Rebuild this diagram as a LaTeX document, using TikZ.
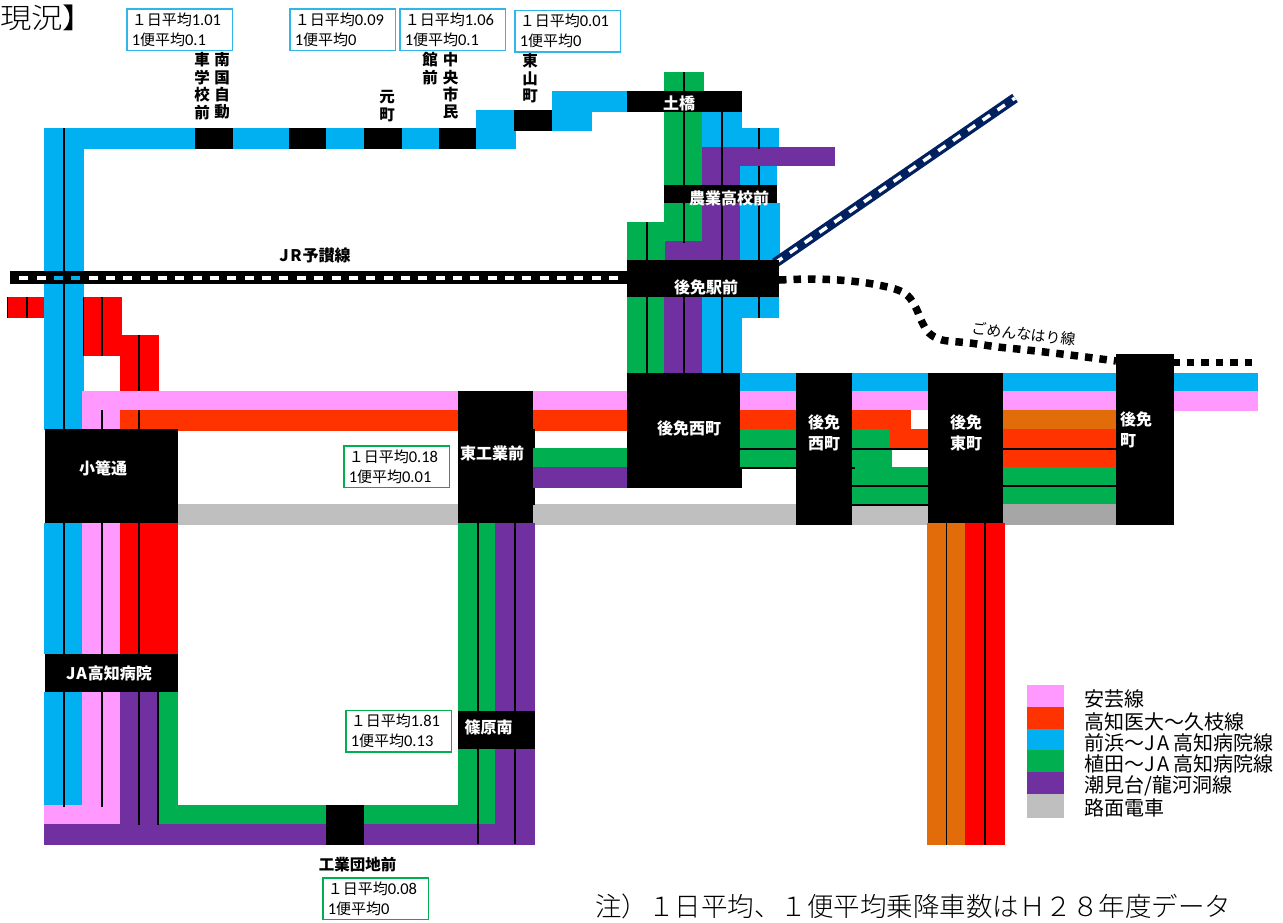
\documentclass[tikz,border=0pt]{standalone}
\usepackage{fontspec}
\newfontfamily\jp{Noto Sans CJK JP}
\newfontfamily\jpl{Noto Sans CJK JP Light}
\newfontfamily\cb{Carlito}[Scale=1.1]
\definecolor{cpink}{HTML}{FF99FF}
\definecolor{corg}{HTML}{FF3300}
\definecolor{cblue}{HTML}{00B0F0}
\definecolor{cgreen}{HTML}{00B050}
\definecolor{cpurple}{HTML}{7030A0}
\definecolor{cgray}{HTML}{BFBFBF}
\definecolor{cdgray}{HTML}{A6A6A6}
\definecolor{cred}{HTML}{FF0000}
\definecolor{corange}{HTML}{E26B0A}
\definecolor{cnavy}{HTML}{002060}
\definecolor{boxblue}{HTML}{33B5E8}
\newcommand\rc[5]{\fill[#1] (#2,#3) rectangle (#4,#5);}
\newcommand\vl[3]{\draw[midline] (#1,#2) -- (#1,#3);}
\newcommand\fs[2]{\fontsize{#1}{#2}\selectfont}
\tikzset{
  midline/.style={black,line width=1.5pt},
  stlabel/.style={text=white,font=\jp\bfseries\fs{16}{21},inner sep=0pt,align=center},
  blacklabel/.style={text=black,font=\jp\bfseries\fs{15.5}{17.4},inner sep=0pt,align=center},
  databox/.style={draw=#1,fill=white,line width=1.5pt,anchor=north west,inner ysep=0pt,inner xsep=5pt,
    text width=95.5pt,minimum height=41.5pt,align=left,font=\jp\fs{15}{20}},
  legendtext/.style={anchor=west,inner sep=0pt,font=\jp\fs{20}{22}},
}
\begin{document}
\begin{tikzpicture}[x=1pt,y=-1pt]
\useasboundingbox (0,0) rectangle (1283,922);
% top band
\rc{cblue}{45}{128}{195}{149}
\rc{black}{195}{128}{233}{149}
\rc{cblue}{233}{128}{289}{149}
\rc{black}{289}{128}{326}{149}
\rc{cblue}{326}{128}{364}{149}
\rc{black}{364}{128}{402}{149}
\rc{cblue}{402}{128}{439}{149}
\rc{black}{439}{128}{476}{149}
\rc{cblue}{476}{110}{516}{149}
\rc{black}{514}{110}{552}{131}
\rc{cblue}{552}{91}{592}{131}
\rc{cblue}{552}{91}{627}{112}
% left column
\rc{cblue}{44}{128}{84}{391}
\rc{cblue}{44}{391}{82}{430}
\vl{64}{128}{430}
% red branch
\rc{cred}{7}{297}{44}{318}
\vl{27}{297}{318}
\vl{7.5}{297}{318}
\rc{cred}{83}{297}{122}{356}
\vl{102}{297}{356}
\vl{83.5}{297}{356}
\rc{cred}{120}{335}{159}{391}
\vl{139}{335}{393}
% JR line
\rc{black}{9.5}{271}{627}{284}
\foreach \k in {0,...,34}{
  \pgfmathsetmacro\xx{19.2+17.35*\k}
  \fill[white] (\xx,275.7) rectangle (\xx+9,279.7);
}
\rc{cblue}{53.9}{275.7}{62.9}{279.7}
\rc{cblue}{71.3}{275.7}{80.3}{279.7}
\node[font=\jp\bfseries\fs{16}{18},inner sep=0pt] (jrlabel) at (315,255) {J\kern1.5pt R\kern1pt 予讃線};
% west horizontal bands
\rc{cpink}{82}{391}{458}{410}
\rc{cpink}{82}{410}{120}{429}
\rc{corg}{120}{410}{458}{431}
\vl{102}{410}{429}
\vl{139}{410}{431}
\rc{cgray}{176}{504}{458}{525}
\rc{cpink}{533}{391}{627}{410}
\rc{corg}{533}{410}{627}{431}
\rc{cgreen}{533}{448}{627}{467}
\rc{cpurple}{533}{467}{627}{488}
\rc{cgray}{533}{504}{796}{525}
% below Komagome
\rc{cblue}{44}{523}{82}{654}
\rc{cpink}{82}{523}{120}{654}
\rc{cred}{120}{523}{178}{654}
\vl{64}{523}{654}
\vl{102}{523}{654}
\vl{139}{523}{654}
% below JA
\rc{cblue}{44}{692}{82}{805}
\rc{cpink}{82}{692}{120}{805}
\rc{cpink}{44}{805}{120}{824}
\rc{cpurple}{120}{692}{159}{824}
\rc{cgreen}{159}{692}{178}{805}
\rc{cgreen}{159}{805}{495}{824}
\rc{cpurple}{44}{824}{535}{845}
\vl{64}{692}{807}
\vl{102}{692}{807}
\vl{139}{692}{825}
\vl{158}{692}{825}
% Shinohara column
\rc{cgreen}{458}{523}{495}{824}
\rc{cpurple}{495}{523}{535}{845}
\vl{478}{523}{844}
\vl{515}{523}{844}
\rc{black}{326}{805}{364}{845}
% stations west
\rc{black}{45}{429}{178}{523}
\rc{black}{45}{654}{178}{692}
\rc{black}{458}{391}{533}{523}
\rc{black}{533}{429}{535}{505}
\rc{cgreen}{533}{448}{535}{467}
\rc{cpurple}{533}{467}{535}{488}
\rc{black}{458}{711}{535}{749}
% north column
\rc{cgreen}{664}{72}{704}{91}
\vl{684}{72}{91}
\rc{cgreen}{664}{110}{702}{185}
\vl{684}{110}{185}
\rc{cblue}{702}{110}{742}{147}
\rc{cblue}{742}{128}{779}{147}
\rc{cpurple}{702}{147}{835}{166}
\rc{cpurple}{702}{166}{740}{185}
\rc{cblue}{740}{166}{777}{185}
\vl{722}{110}{185}
\vl{759}{128}{149}
\vl{759}{166}{185}
\rc{black}{627}{91}{742}{112}
\rc{black}{664}{185}{777}{203}
\rc{cgreen}{664}{203}{702}{241}
\rc{cgreen}{627}{222}{664}{260}
\rc{cgreen}{664}{222}{665}{260}
\rc{cpurple}{665}{241}{740}{260}
\rc{cpurple}{702}{203}{740}{241}
\rc{cblue}{740}{203}{780}{260}
\vl{684}{203}{243}
\vl{647}{222}{260}
\vl{722}{203}{260}
\vl{759}{203}{260}
\rc{cgreen}{627}{297}{664}{373}
\rc{cpurple}{664}{297}{702}{373}
\rc{cblue}{702}{297}{742}{373}
\rc{cblue}{742}{297}{779}{318}
\vl{647}{297}{373}
\vl{684}{297}{373}
\vl{722}{297}{373}
\vl{759}{297}{318}
% JR diagonal
\coordinate (diagA) at (775,263);
\coordinate (diagB) at (1015,98);
\draw[cnavy,line width=10pt] (diagA) -- (diagB);
\draw[white,line width=3.5pt,dash pattern=on 9pt off 9pt] (diagA) -- (diagB);
\rc{black}{627}{260}{779}{297}
% Gomen-Nahari line
\draw[black,line width=7.5pt,dash pattern=on 7.5pt off 7pt] plot[smooth,tension=0.55] coordinates
  {(779,280) (810,279) (838,280) (867,283) (895,289) (908,296) (916,308) (922,322) (929,333) (942,340) (970,343) (998,347) (1027,350) (1070,355) (1116,361)};
\draw[black,line width=7.5pt,dash pattern=on 7.5pt off 7pt] (1172,362.5) -- (1256,362.5);
\node[font=\jp\fs{14.8}{16},inner sep=0pt,rotate=-6.4] (gomen) at (1024,334) {ごめんなはり線};
% central-east bands
\rc{black}{627}{373}{742}{488}
\rc{black}{740}{448}{796}{450}
\rc{black}{740}{467}{855}{469}
\rc{cblue}{740}{373}{796}{391}
\rc{cpink}{740}{391}{796}{410}
\rc{corg}{740}{410}{796}{429}
\rc{cgreen}{740}{429}{796}{448}
\rc{cgreen}{740}{450}{796}{467}
\rc{cblue}{852}{373}{928}{391}
\rc{cpink}{852}{391}{928}{410}
\rc{corg}{852}{410}{911}{429}
\rc{corg}{890}{429}{928}{448}
\rc{cgreen}{852}{429}{890}{448}
\rc{cgreen}{852}{450}{892}{467}
\rc{cgreen}{852}{467}{928}{485}
\rc{cgreen}{852}{487}{928}{504}
\rc{cgray}{852}{506}{928}{525}
\rc{black}{852}{448}{928}{450}
\rc{black}{852}{485}{928}{487}
\rc{black}{852}{504}{928}{506}
\rc{cblue}{1003}{373}{1116}{391}
\rc{cpink}{1003}{391}{1116}{410}
\rc{corange}{1003}{410}{1116}{429}
\rc{corg}{1003}{429}{1116}{448}
\rc{black}{1003}{448}{1116}{450}
\rc{corg}{1003}{450}{1116}{467}
\rc{cgreen}{1003}{467}{1116}{485}
\rc{black}{1003}{485}{1116}{487}
\rc{cgreen}{1003}{487}{1116}{504}
\rc{cdgray}{1003}{504}{1116}{525}
\rc{cblue}{1172}{373}{1258}{391}
\rc{cpink}{1172}{391}{1258}{411}
\rc{black}{796}{373}{852}{525}
\rc{black}{852}{467}{855}{469}
\rc{black}{928}{373}{1003}{523}
\rc{black}{1116}{354}{1174}{525}
\rc{corange}{927}{523}{965}{845}
\rc{cred}{965}{523}{1005}{845}
\vl{946.5}{523}{845}
\vl{985}{523}{845}
% station labels (white)
\node[stlabel] (komagome) at (103,468) {小篭通};
\node[stlabel] (jahosp) at (109,673) {J\kern1pt A\kern1pt 高知病院};
\node[stlabel] (higashikogyo) at (492,453) {東工業前};
\node[stlabel] (shinohara) at (488.5,727) {篠原南};
\node[stlabel] (tsuchibashi) at (679,103) {土橋};
\node[stlabel] (nogyo) at (729,198) {農業高校前};
\node[stlabel] (gomeneki) at (706,287) {後免駅前};
\node[stlabel] (gomennishi) at (689,428) {後免西町};
\node[stlabel] (gomennishi2) at (824,432.5) {後免\\西町};
\node[stlabel] (gomenhigashi) at (966,432.5) {後免\\東町};
\node[stlabel,align=left,anchor=north west] (gomenmachi) at (1120,412) {後免\\町};
% vertical labels above the band
\node[blacklabel] (v1) at (222,86) {南\\国\\自\\動};
\node[blacklabel] (v2) at (202,86) {車\\学\\校\\前};
\node[blacklabel] (v3) at (387,106) {元\\町};
\node[blacklabel] (v4) at (450.6,86) {中\\央\\市\\民};
\node[blacklabel] (v5) at (430,68.5) {館\\前};
\node[blacklabel] (v6) at (530,78.5) {東\\山\\町};
\node[blacklabel] (kogyodanchi) at (357.5,865) {工業団地前};
% data boxes
\node[databox=boxblue] (dA) at (126,8) {１日平均{\cb 1.01}\\{\cb 1}便平均{\cb 0.1}};
\node[databox=boxblue] (dB) at (289,8) {１日平均{\cb 0.09}\\{\cb 1}便平均{\cb 0}};
\node[databox=boxblue] (dC) at (399,8) {１日平均{\cb 1.06}\\{\cb 1}便平均{\cb 0.1}};
\node[databox=boxblue] (dD) at (514,9.5) {１日平均{\cb 0.01}\\{\cb 1}便平均{\cb 0}};
\node[databox=cgreen] (dE) at (343,445) {１日平均{\cb 0.18}\\{\cb 1}便平均{\cb 0.01}};
\node[databox=cgreen] (dF) at (345,709.5) {１日平均{\cb 1.81}\\{\cb 1}便平均{\cb 0.13}};
\node[databox=cgreen] (dG) at (322,877) {１日平均{\cb 0.08}\\{\cb 1}便平均{\cb 0}};
% title
\node[anchor=west,inner sep=0pt,font=\jpl\fs{28}{30},xscale=1.12] (title) at (0,17.5) {現況】};
% legend
\rc{cpink}{1027}{685}{1064}{707}
\rc{corg}{1027}{707}{1064}{729}
\rc{cblue}{1027}{729}{1064}{750}
\rc{cgreen}{1027}{750}{1064}{772}
\rc{cpurple}{1027}{772}{1064}{794}
\rc{cgray}{1027}{794}{1064}{818}
\node[legendtext] (l1) at (1084,699) {安芸線};
\node[legendtext] (l2) at (1084,722) {高知医大～久枝線};
\node[legendtext] (l3) at (1084,743) {前浜～J\kern3pt A\kern3pt 高知病院線};
\node[legendtext] (l4) at (1084,764) {植田～J\kern3pt A\kern3pt 高知病院線};
\node[legendtext] (l5) at (1084,786) {潮見台/龍河洞線};
\node[legendtext] (l6) at (1084,808) {路面電車};
% note
\node[anchor=west,inner sep=0pt,font=\jpl\fs{26.5}{30}] (note) at (595,906) {注）１日平均、１便平均乗降車数はＨ２８年度データ};
\end{tikzpicture}
\end{document}
